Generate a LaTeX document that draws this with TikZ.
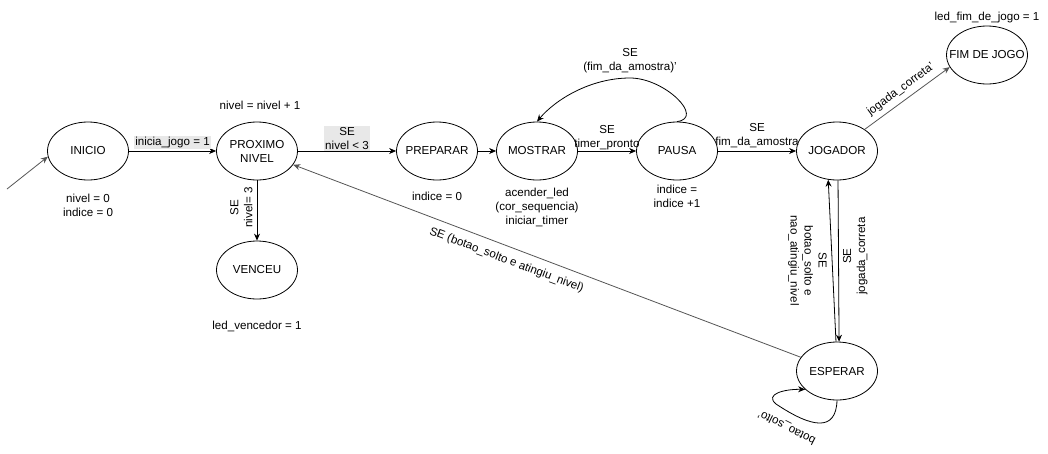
\documentclass[tikz,border=0pt]{standalone}
\usepackage{fontspec}
\setmainfont{Liberation Sans}
\usetikzlibrary{arrows.meta,shapes.geometric}
\definecolor{linegray}{RGB}{85,85,85}
\definecolor{labelbg}{RGB}{232,232,232}

\begin{document}
\begin{tikzpicture}[x=1pt, y=-1pt, thick, >={Stealth[length=7pt,width=6pt]},
font=\fontsize{11.6}{14}\selectfont,
state/.style={ellipse, draw, minimum width=81pt, minimum height=58pt,
inner xsep=-12pt, inner ysep=0pt, align=center},
note/.style={align=center, inner sep=1pt},
cond/.style={fill=labelbg, inner sep=1pt, align=center, text=black},
lbl/.style={inner sep=1pt, align=center, text=black}]

\useasboundingbox (0,0) rectangle (1048,453);

% estados
\node[state] (inicio) at (88,151) {INICIO};
\node[state] (proximo) at (257,151) {PROXIMO\\NIVEL};
\node[state] (preparar) at (437,151) {PREPARAR};
\node[state] (mostrar) at (537,151) {MOSTRAR};
\node[state] (pausa) at (677,151) {PAUSA};
\node[state] (jogador) at (837,151) {JOGADOR};
\node[state] (fim) at (987,55) {FIM DE JOGO};
\node[state] (venceu) at (257,270) {VENCEU};
\node[state] (esperar) at (837,371) {ESPERAR};

% saidas
\node[note] (n0) at (88,205) {nivel = 0\\indice = 0};
\node[note] (n1) at (260,105) {nivel = nivel + 1};
\node[note] (n2) at (437,196) {indice = 0};
\node[note] (n3) at (537,207) {acender\_led\\(cor\_sequencia)\\iniciar\_timer};
\node[note] (n4) at (677,196) {indice =\\indice +1};
\node[note] (n5) at (987,17) {led\_fim\_de\_jogo = 1};
\node[note] (n6) at (257,326) {led\_vencedor = 1};

\coordinate (start) at (7,189);

% transicoes
\draw[->, linegray] (start) -- (inicio.188);
\draw[->] (inicio) -- node[cond, above=2pt] {inicia\_jogo = 1} (proximo);
\draw[->] (proximo) -- node[cond, above=0pt] {SE\\nivel < 3} (preparar);
\draw[->] (preparar) -- (mostrar);
\draw[->] (mostrar) -- node[lbl, above=0pt] {SE\\timer\_pronto} (pausa);
\draw[->] (pausa) -- node[lbl, above=2pt] {SE\\fim\_da\_amostra} (jogador);
\draw[->] (pausa.north) .. controls (705,118) and (665,78) .. (630,78)
  node[lbl, above=4pt] {SE\\(fim\_da\_amostra)'}
  .. controls (590,78) and (555,100) .. (mostrar.north);
\draw[->] (proximo) -- node[lbl, rotate=90, anchor=south, pos=0.45, inner sep=4pt] {SE\\nivel= 3} (venceu);
\draw[->, linegray] (jogador.38) -- node[lbl, sloped, above=4pt] {jogada\_correta'} (fim.198);
\draw[->] (esperar.92) -- node[lbl, rotate=-90, anchor=north, pos=0.5, inner sep=5pt] {SE\\botao\_solto e\\nao\_atingiu\_nivel} (jogador.253);
\draw[->] (jogador.-88) -- node[lbl, rotate=90, anchor=north, pos=0.47, inner sep=4pt] {SE\\jogada\_correta} (esperar.86);
\draw[->, linegray] (esperar) -- node[lbl, sloped, below=7pt, pos=0.57] {SE (botao\_solto e atingiu\_nivel)} (proximo);
\draw[->] (esperar.south) .. controls (836,432) and (812,428) .. (776,404)
  node[lbl, pos=0.75, rotate=153, xshift=8pt, yshift=14pt] {botao\_solto'}
  .. controls (764,394) and (785,389) .. (esperar.210);

\end{tikzpicture}
\end{document}
